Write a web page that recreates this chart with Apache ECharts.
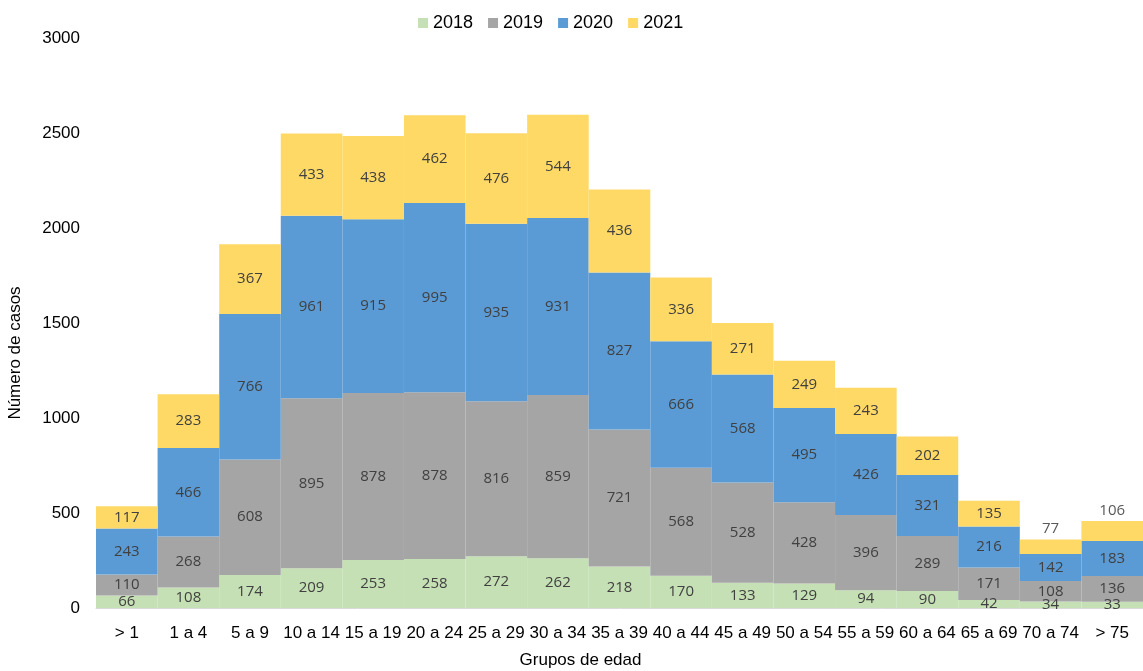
<!DOCTYPE html>
<html>
<head>
<meta charset="utf-8">
<script src="https://cdn.jsdelivr.net/npm/echarts@6/dist/echarts.min.js"></script>
<style>
    html, body { margin: 0; padding: 0; background: #fff; }
    #chart { width: 1143px; height: 671px; }
</style>
</head>
<body>
<div id="chart"></div>
<script>
var grupos = ['> 1', '1 a 4', '5 a 9', '10 a 14', '15 a 19', '20 a 24', '25 a 29', '30 a 34', '35 a 39',
    '40 a 44', '45 a 49', '50 a 54', '55 a 59', '60 a 64', '65 a 69', '70 a 74', '> 75'];
var anios = ['2018', '2019', '2020', '2021'];
var casos2018 = [66, 108, 174, 209, 253, 258, 272, 262, 218, 170, 133, 129, 94, 90, 42, 34, 33];
var casos2019 = [110, 268, 608, 895, 878, 878, 816, 859, 721, 568, 528, 428, 396, 289, 171, 108, 136];
var casos2020 = [243, 466, 766, 961, 915, 995, 935, 931, 827, 666, 568, 495, 426, 321, 216, 142, 183];
var casos2021 = [117, 283, 367, 433, 438, 462, 476, 544, 436, 336, 271, 249, 243, 202, 135, 77, 106];
var colores = ['#C5E0B4', '#A5A5A5', '#5B9BD5', '#FFD966'];

var fuente = 'Liberation Sans';
var etiqueta = { show: true, position: 'inside', color: '#404040', fontSize: 15, fontFamily: 'Open Sans' };

// los valores pequenos de 2021 van encima de la barra
function datos2021() {
    var d = [];
    for (var i = 0; i < casos2021.length; i++) {
        if (casos2021[i] < 100 || i == casos2021.length - 1) {
            d.push({ value: casos2021[i], label: { position: 'top', color: '#595959', distance: 3 } });
        } else {
            d.push(casos2021[i]);
        }
    }
    return d;
}

var series = [casos2018, casos2019, casos2020, datos2021()].map(function (d, i) {
    return {
        name: anios[i],
        type: 'bar',
        stack: 'total',
        data: d,
        barCategoryGap: '0%',
        itemStyle: { color: colores[i], borderWidth: 0 },
        label: etiqueta
    };
});

var myChart = echarts.init(document.getElementById('chart'));
var options = {
    animation: false,
    backgroundColor: '#fff',
    legend: {
        top: 9,
        left: 413,
        itemWidth: 10,
        itemHeight: 10,
        itemGap: 15,
        icon: 'rect',
        textStyle: { fontFamily: fuente, fontSize: 18, color: '#000' },
        data: anios
    },
    grid: { left: 96, right: 0, top: 38, bottom: 63, outerBoundsMode: 'none' },
    xAxis: {
        type: 'category',
        data: grupos,
        name: 'Grupos de edad',
        nameLocation: 'middle',
        nameGap: 44,
        nameTextStyle: { fontFamily: fuente, fontSize: 17, color: '#000', padding: [0, 78, 0, 0] },
        axisTick: { show: false },
        axisLine: { lineStyle: { color: '#d9d9d9' } },
        axisLabel: { fontFamily: fuente, fontSize: 17, color: '#000', margin: 17, interval: 0 }
    },
    yAxis: {
        type: 'value',
        min: 0,
        max: 3000,
        interval: 500,
        name: 'Número de casos',
        nameLocation: 'middle',
        nameGap: 72,
        nameTextStyle: { fontFamily: fuente, fontSize: 17, color: '#000', padding: [0, 60, 0, 0] },
        splitLine: { show: false },
        axisLine: { show: false },
        axisTick: { show: false },
        axisLabel: {
            fontFamily: fuente, fontSize: 17, color: '#000', margin: 16,
            formatter: function (v) { return String(v); }
        }
    },
    series: series
};
myChart.setOption(options);
</script>
</body>
</html>
